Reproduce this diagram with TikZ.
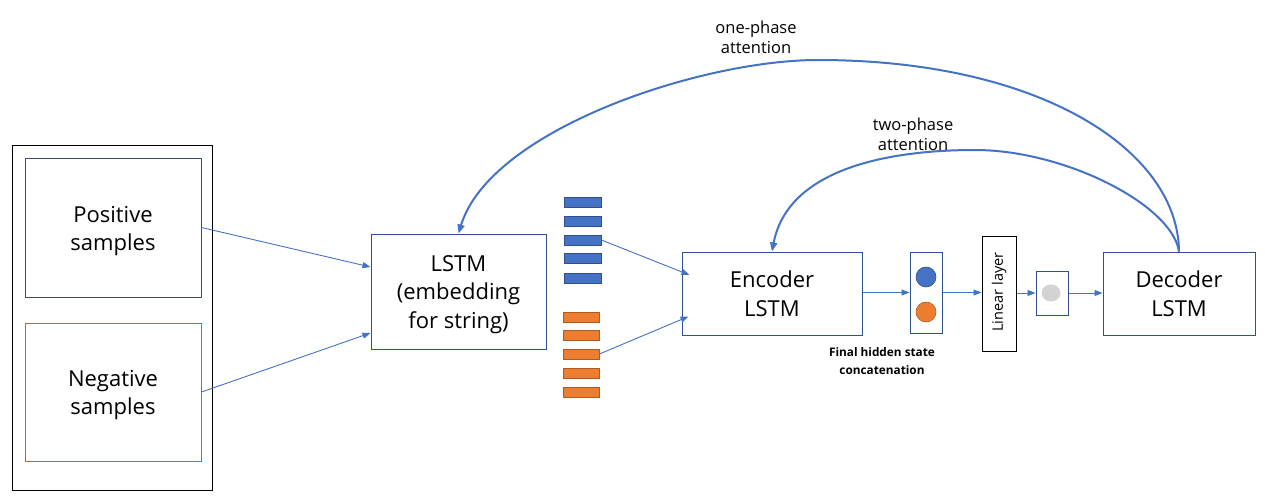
\documentclass[tikz,border=0pt]{standalone}
\usepackage{fontspec}
\setmainfont{Open Sans}
\usetikzlibrary{arrows.meta,calc,shapes.geometric}
\definecolor{pblue}{HTML}{4472C4}
\definecolor{dblue}{HTML}{2F528F}
\definecolor{porange}{HTML}{ED7D31}
\definecolor{dorange}{HTML}{AE5A21}
\definecolor{slate}{HTML}{3B4E6B}
\definecolor{negbrd}{HTML}{B86A2E}
\definecolor{lgray}{HTML}{D3D3D3}
\tikzset{
  box/.style={draw, line width=1pt, inner sep=0pt, align=center, font=\fontsize{22}{28.5}\selectfont},
  txt/.style={inner sep=0pt, align=center, font=\fontsize{22}{28.5}\selectfont},
  bbar/.style={draw=dblue, fill=pblue, line width=0.8pt, minimum width=37pt, minimum height=10pt, inner sep=0pt},
  obar/.style={draw=dorange, fill=porange, line width=0.8pt, minimum width=36pt, minimum height=10pt, inner sep=0pt},
  arr/.style={draw=pblue, line width=0.9pt, -{Triangle[length=8pt,width=6pt]}},
  arc/.style={draw=pblue, line width=2pt, -{Triangle[length=9pt,width=7pt]}},
  lbl/.style={align=center, font=\fontsize{16.5}{20}\selectfont},
}
\begin{document}
\begin{tikzpicture}[x=1pt,y=-1pt]
\useasboundingbox (0,0) rectangle (1265,503);
% left group
\node[box, draw=black, minimum width=200pt, minimum height=345pt] (outer) at (112,317.5) {};
\node[box, draw=slate, minimum width=176pt, minimum height=139pt] (pos) at (113,227.5) {};
\node[txt] (postxt) at ($(pos.center)+(0,3.5)$) {Positive\\samples};
\node[box, draw=negbrd, minimum width=176pt, minimum height=138pt] (neg) at (113,392) {};
\node[txt] (negtxt) at ($(neg.center)+(0,3)$) {Negative\\samples};
% LSTM
\node[box, draw=dblue, minimum width=175pt, minimum height=115pt] (lstm) at (458.5,291.5) {};
\node[txt] (lstmtxt) at ($(lstm.center)+(0,3)$) {LSTM\\(embedding\\for string)};
% bars
\node[bbar] (b1) at (582.5,202) {};
\node[bbar] (b2) at (582.5,221) {};
\node[bbar] (b3) at (582.5,240) {};
\node[bbar] (b4) at (582.5,258) {};
\node[bbar] (b5) at (582.5,278) {};
\node[obar] (o1) at (581,317) {};
\node[obar] (o2) at (581,335) {};
\node[obar] (o3) at (581,354) {};
\node[obar] (o4) at (581,373) {};
\node[obar] (o5) at (581,392) {};
% encoder / decoder
\node[box, draw=dblue, minimum width=180pt, minimum height=83pt] (enc) at (772,293.5) {Encoder\\LSTM};
\node[box, draw=dblue, minimum width=152pt, minimum height=83pt] (dec) at (1179,293.5) {Decoder\\LSTM};
% concat
\node[box, draw=dblue, minimum width=32pt, minimum height=81pt] (cat) at (926,292.5) {};
\node[circle, fill=pblue, draw=dblue, line width=0.6pt, minimum size=20pt, inner sep=0pt] (c1) at (926,277) {};
\node[circle, fill=porange, draw=dorange, line width=0.6pt, minimum size=20pt, inner sep=0pt] (c2) at (926,312) {};
\node[align=center, font=\bfseries\fontsize{11.8}{18}\selectfont] (catlbl) at (882,361) {Final hidden state\\concatenation};
% linear
\node[box, draw=black, minimum width=34pt, minimum height=115pt] (lin) at (999,293.5) {};
\node[rotate=90, font=\fontsize{14.5}{16}\selectfont] (lintxt) at (999,292) {Linear layer};
% small box
\node[box, draw=dblue, minimum width=32pt, minimum height=44pt] (sm) at (1052,293) {};
\node[ellipse, fill=lgray, minimum width=19pt, minimum height=17pt, inner sep=0pt] (g) at (1051,293) {};
% arrows
\draw[arr] (pos.east) -- ($(lstm.west)+(0,-24.5)$);
\draw[arr] (neg.east) -- ($(lstm.west)+(0,41.5)$);
\draw[arr] (b3.east) -- ($(enc.west)+(8,-18.5)$);
\draw[arr] (o3.east) -- ($(enc.west)+(7,23)$);
\draw[arr] (enc.east |- cat.west) -- (cat.west);
\draw[arr] (cat.east) -- (cat.east -| lin.west);
\draw[arr] (lin.east |- sm.west) -- (sm.west);
\draw[arr] (sm.east) -- (sm.east -| dec.west);
% attention arcs
\coordinate (top1) at (818,60);
\coordinate (top2) at (975,150);
\draw[arc] (dec.north) .. controls (1178,150) and (1040,60) .. (top1)
  .. controls (700,60) and (490,130) .. (lstm.north);
\draw[arc] (dec.north) .. controls (1172,205) and (1065,150) .. (top2)
  .. controls (890,150) and (788,168) .. (enc.north);
\node[lbl] (l1) at (756,37) {one-phase\\attention};
\node[lbl] (l2) at (913,134) {two-phase\\attention};
\end{tikzpicture}
\end{document}
